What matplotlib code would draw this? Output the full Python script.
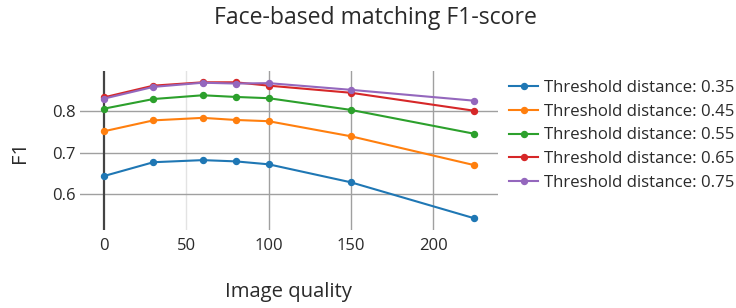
import matplotlib
matplotlib.use('Agg')
import matplotlib.pyplot as plt

plt.rcParams['font.family'] = ['Open Sans', 'DejaVu Sans']

# data
quality = [0, 30, 60, 80, 100, 150, 225]
thresholds = ["0.35", "0.45", "0.55", "0.65", "0.75"]
f1_035 = [0.644, 0.677, 0.682, 0.679, 0.672, 0.629, 0.543]
f1_045 = [0.751, 0.777, 0.783, 0.778, 0.775, 0.739, 0.670]
f1_055 = [0.805, 0.828, 0.837, 0.833, 0.830, 0.802, 0.745]
f1_065 = [0.832, 0.860, 0.868, 0.868, 0.860, 0.843, 0.800]
f1_075 = [0.829, 0.857, 0.867, 0.865, 0.866, 0.850, 0.824]
colors = ["#1f77b4", "#ff7f0e", "#2ca02c", "#d62728", "#9467bd"]

fig = plt.figure(figsize=(7.36, 3.08), dpi=100)
ax = fig.add_axes([80 / 736, 78 / 308, 418 / 736, 159 / 308])

# grid (50 line is lighter in the reference)
for gx, gc in [(50, "#e3e3e3"), (100, "#a0a0a0"), (150, "#a0a0a0"), (200, "#a0a0a0")]:
    ax.axvline(gx, color=gc, linewidth=1, zorder=0)
for gy in [0.6, 0.7, 0.8]:
    ax.axhline(gy, color="#a0a0a0", linewidth=1, zorder=0)
ax.axvline(0, color="#444444", linewidth=1.6, zorder=1)

series = [f1_035, f1_045, f1_055, f1_065, f1_075]
for vals, th, c in zip(series, thresholds, colors):
    ax.plot(quality, vals, "-o", color=c, linewidth=1.5, markersize=4.3,
            label="Threshold distance: " + th, zorder=3)

ax.set_xlim(-14.6, 239.4)
ax.set_ylim(0.515, 0.895)
ax.set_xticks([0, 50, 100, 150, 200])
ax.set_yticks([0.6, 0.7, 0.8])
ax.set_yticklabels(["0.6", "0.7", "0.8"])
ax.tick_params(length=0, labelsize=12, colors="#2a2a2a")
ax.tick_params(axis='x', pad=6)
ax.tick_params(axis='y', pad=3)
for s in ax.spines.values():
    s.set_visible(False)

fig.text(20 / 736, 1 - 152 / 308, "F1", rotation=90, fontsize=14.6, color="#2a2a2a",
         ha="center", va="center")
fig.text(288 / 736, 1 - 292 / 308, "Image quality", fontsize=14.6, color="#2a2a2a",
         ha="center", va="center")
fig.text(375 / 736, 1 - 18 / 308, "Face-based matching F1-score", fontsize=16.6,
         color="#2a2a2a", ha="center", va="center")

fig.legend(loc="upper left", bbox_to_anchor=(509 / 736, 1 - 80 / 308), frameon=False,
           fontsize=12.1, handlelength=1.75, handletextpad=0.35, labelspacing=0.46,
           borderaxespad=0, borderpad=0, labelcolor="#2a2a2a")

fig.savefig("out.png", dpi=100)
plt.close(fig)
